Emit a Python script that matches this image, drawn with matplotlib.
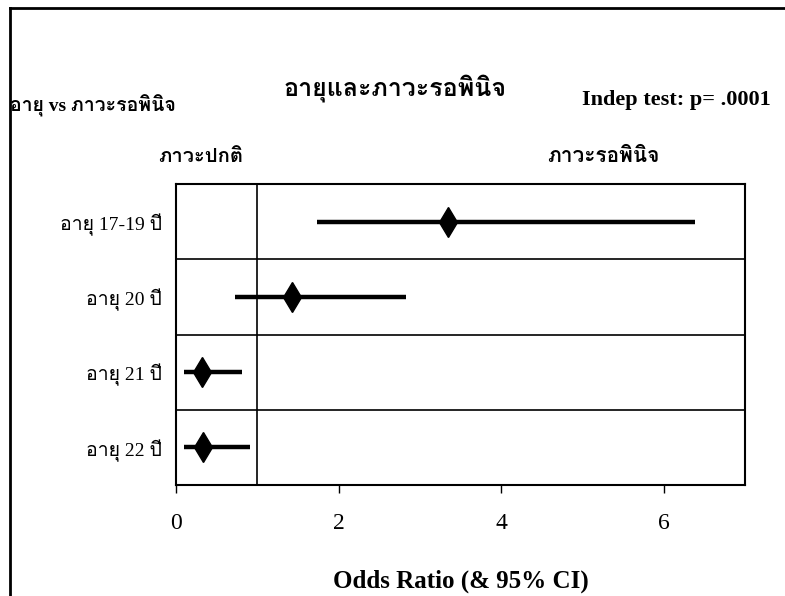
import numpy as np
import matplotlib
matplotlib.use('Agg')
import matplotlib.pyplot as plt
from matplotlib import font_manager
from matplotlib.ft2font import FT2Font

#data
groups = ['อายุ 17-19 ปี', 'อายุ 20 ปี', 'อายุ 21 ปี', 'อายุ 22 ปี']
odds = [3.35, 1.43, 0.32, 0.33]
lower = [1.73, 0.72, 0.10, 0.10]
upper = [6.39, 2.83, 0.81, 0.91]
xticks = [0, 2, 4, 6]

#look for an installed font that has thai glyphs
thai = None
for f in font_manager.fontManager.ttflist:
    try:
        if 0x0E2D in FT2Font(f.fname).get_charmap():
            thai = f.name
            break
    except Exception:
        pass
serif = ['Liberation Serif'] + ([thai] if thai else []) + ['DejaVu Sans']

fig = plt.figure(figsize=(7.85, 5.96), dpi=100)
ax = fig.add_axes([0.2242, 0.1862, 0.7248, 0.505])

n = len(groups)
ypos = np.arange(n)[::-1] + 0.5
for y, o, lo, hi in zip(ypos, odds, lower, upper):
    ax.plot([lo, hi], [y, y], color='black', lw=3.2, solid_capstyle='butt')
    ax.plot(o, y, marker='d', color='black', markersize=15)

ax.axvline(1, color='black', lw=1.2)
ax.set_xlim(0, 7)
ax.set_ylim(0, n)
ax.set_yticks(ypos)
ax.set_yticklabels(groups, family=serif, fontsize=14)
ax.set_yticks(np.arange(1, n), minor=True)
ax.grid(True, which='minor', axis='y', color='black', lw=1.2)
ax.tick_params(axis='y', which='both', length=0, pad=10)
ax.set_xticks(xticks)
ax.set_xticklabels([str(t) for t in xticks], family=serif, fontsize=17)
ax.tick_params(axis='x', direction='out', length=6, width=1, pad=14)
for s in ax.spines.values():
    s.set_linewidth(1.5)

ax.set_xlabel('Odds Ratio (& 95% CI)', family=serif, fontsize=18, fontweight='bold', labelpad=26)

fig.text(0.503, 0.852, 'อายุและภาวะรอพินิจ', family=serif, fontsize=18, fontweight='bold', ha='center', va='center')
fig.text(0.013, 0.823, 'อายุ vs ภาวะรอพินิจ', family=serif, fontsize=14, fontweight='bold', ha='left', va='center')
fig.text(0.982, 0.832, 'Indep test: p= .0001', family=serif, fontsize=16, fontweight='bold', ha='right', va='center')
fig.text(0.256, 0.737, 'ภาวะปกติ', family=serif, fontsize=14.5, fontweight='bold', ha='center', va='center')
fig.text(0.769, 0.737, 'ภาวะรอพินิจ', family=serif, fontsize=15, fontweight='bold', ha='center', va='center')

#frame of the scanned page
fig.add_artist(plt.Line2D([0.013, 0.013], [0.0, 0.987], color='black', lw=2, transform=fig.transFigure))
fig.add_artist(plt.Line2D([0.013, 1.0], [0.987, 0.987], color='black', lw=2, transform=fig.transFigure))

fig.savefig('out.png', dpi=100)
